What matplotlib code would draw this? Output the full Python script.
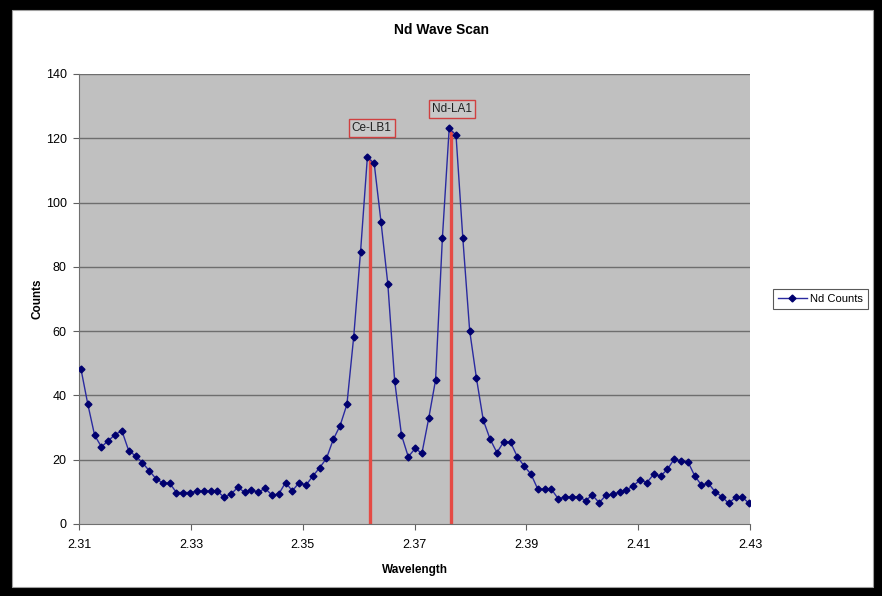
import numpy as np
import matplotlib
matplotlib.use('Agg')
import matplotlib.pyplot as plt
from matplotlib.patches import Rectangle

plt.rcParams['font.family'] = ['Liberation Sans', 'DejaVu Sans']

# Scan grid: start wavelength and step
wl_start = 2.3103
wl_step = 0.00122

counts = [48.2, 37.3, 27.6, 24.0, 25.9, 27.8, 29.0, 22.8, 21.2, 19.1,
          16.6, 14.1, 12.7, 12.7, 9.8, 9.8, 9.8, 10.2, 10.2, 10.2,
          10.2, 8.3, 9.3, 11.4, 9.9, 10.6, 9.9, 11.1, 9.0, 9.3,
          12.9, 10.3, 12.9, 12.1, 14.9, 17.5, 20.4, 26.3, 30.6, 37.2,
          58.3, 84.7, 114.1, 112.2, 94.0, 74.7, 44.6, 27.7, 20.9, 23.5,
          22.0, 32.9, 44.8, 88.9, 123.1, 121.0, 88.9, 60.2, 45.3, 32.3,
          26.4, 22.2, 25.6, 25.4, 20.9, 18.0, 15.5, 10.8, 10.8, 10.8,
          7.8, 8.5, 8.5, 8.5, 7.3, 9.0, 6.6, 9.0, 9.2, 10.0,
          10.6, 11.9, 13.7, 12.9, 15.5, 14.9, 17.0, 20.2, 19.5, 19.4,
          15.0, 12.1, 12.7, 10.0, 8.5, 6.4, 8.3, 8.3, 6.4, 8.0]
wavelength = np.round(wl_start + wl_step * np.arange(len(counts)), 5)

# Emission lines marked on the scan
line_names = ['Ce-LB1', 'Nd-LA1']
line_pos = [2.3621, 2.3765]
line_top = [113, 122]
label_y = [123.2, 129.0]

xticks = [2.31, 2.33, 2.35, 2.37, 2.39, 2.41, 2.43]
yticks = [0, 20, 40, 60, 80, 100, 120, 140]

fig = plt.figure(figsize=(8.82, 5.96), dpi=100)
fig.patch.set_facecolor('black')
fig.add_artist(Rectangle((12 / 882, 9 / 596), 861 / 882, 577 / 596,
                         transform=fig.transFigure, facecolor='white',
                         edgecolor='#a0a0a0', linewidth=0.8, zorder=-10))

ax = fig.add_axes([79.3 / 882, 72 / 596, 670.7 / 882, 450 / 596])
ax.set_facecolor('#c0c0c0')

for y in yticks[1:]:
    ax.axhline(y, color='#6e6e6e', linewidth=1.0, zorder=1)

for name, xp, top, ly in zip(line_names, line_pos, line_top, label_y):
    ax.plot([xp, xp], [0, top], color='#e54a44', linewidth=2.4, zorder=2)
    ax.text(xp + 0.0002, ly, name, fontsize=8.5, ha='center', va='center', color='#202020',
            bbox=dict(boxstyle='square,pad=0.25', facecolor='#c8c8c8',
                      edgecolor='#d04040', linewidth=1.0), zorder=5)

ln, = ax.plot(wavelength, counts, color='#2a2aa0', linewidth=1.0,
              marker='D', markersize=3.5, markerfacecolor='#00006e',
              markeredgecolor='#00006e', zorder=3, label='Nd Counts',
              clip_on=True)

ax.set_xlim(2.31, 2.43)
ax.set_ylim(0, 140)
ax.set_xticks(xticks)
ax.set_xticklabels([f'{v:.2f}' for v in xticks])
ax.set_yticks(yticks)
ax.tick_params(labelsize=9, length=4, color='#606060', direction='out')
ax.tick_params(axis='x', pad=7)
ax.tick_params(axis='y', pad=5)

for s in ['left', 'bottom']:
    ax.spines[s].set_color('#707070')
for s in ['top', 'right']:
    ax.spines[s].set_visible(False)

ax.set_xlabel('Wavelength', fontsize=8.5, fontweight='bold', labelpad=9)
ax.set_ylabel('Counts', fontsize=8.5, fontweight='bold', labelpad=2)
fig.text(441 / 882, 1 - 30 / 596, 'Nd Wave Scan', fontsize=10,
         fontweight='bold', ha='center', va='center')

leg = fig.legend(handles=[ln], loc='center left',
                 bbox_to_anchor=(773 / 882, 1 - 299 / 596), fontsize=8,
                 frameon=True, fancybox=False, handlelength=2.6,
                 borderpad=0.45, handletextpad=0.3, borderaxespad=0)
leg.get_frame().set_edgecolor('#303030')
leg.get_frame().set_linewidth(0.8)

fig.savefig('out.png', dpi=100, facecolor=fig.get_facecolor())
